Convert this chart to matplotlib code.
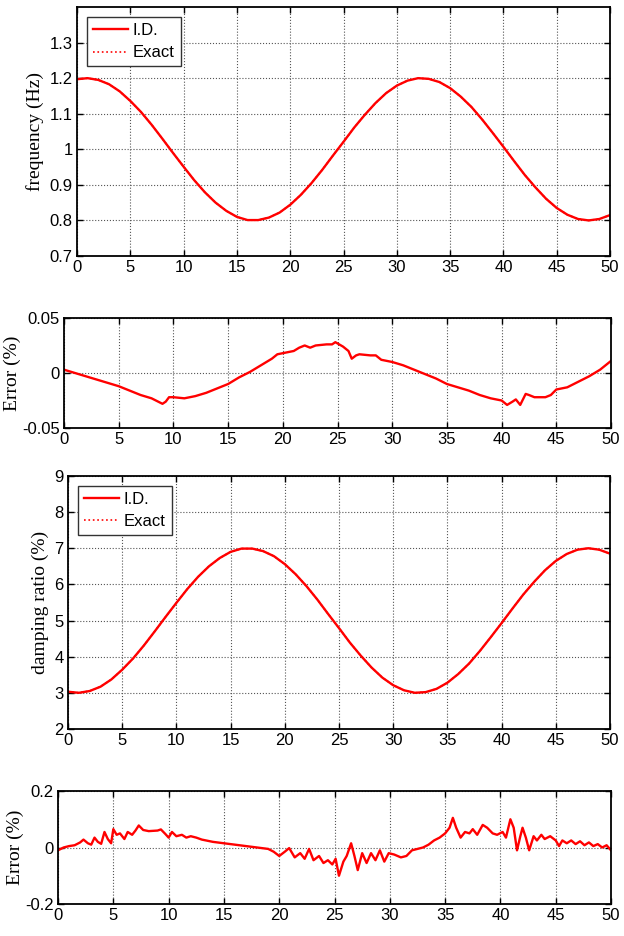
import numpy as np
import matplotlib
matplotlib.use("Agg")
import matplotlib.pyplot as plt
from matplotlib.ticker import FuncFormatter

plt.rcParams['font.family'] = ['Liberation Sans', 'DejaVu Sans']
plt.rcParams['axes.unicode_minus'] = False

# time grid for the smooth curves (s)
t_smooth = list(range(0, 51))

freq_id = [1.197, 1.200, 1.195, 1.183, 1.163, 1.136, 1.105, 1.069, 1.030, 0.990,
           0.951, 0.913, 0.879, 0.850, 0.827, 0.810, 0.801, 0.801, 0.808, 0.822,
           0.844, 0.872, 0.905, 0.942, 0.982, 1.021, 1.061, 1.097, 1.130, 1.158,
           1.179, 1.193, 1.200, 1.198, 1.189, 1.172, 1.148, 1.119, 1.084, 1.046,
           1.007, 0.967, 0.928, 0.893, 0.861, 0.835, 0.816, 0.804, 0.800, 0.804,
           0.815]
freq_exact = list(freq_id)

damp_id = [3.03, 3.00, 3.05, 3.17, 3.37, 3.64, 3.95, 4.31, 4.70, 5.10,
           5.49, 5.87, 6.21, 6.50, 6.73, 6.90, 6.99, 6.99, 6.92, 6.78,
           6.56, 6.28, 5.95, 5.58, 5.18, 4.79, 4.39, 4.03, 3.70, 3.42,
           3.21, 3.07, 3.00, 3.02, 3.11, 3.28, 3.52, 3.81, 4.16, 4.54,
           4.93, 5.33, 5.72, 6.07, 6.39, 6.65, 6.84, 6.96, 7.00, 6.96,
           6.85]
damp_exact = list(damp_id)

t_err_f = [0, 1, 2, 3, 4, 5, 6, 7, 8, 9, 9.3, 9.6, 10, 11, 12, 13, 14, 15, 16, 17,
           18, 19, 19.5, 20, 21, 21.5, 22, 22.5, 23, 24, 24.5, 24.8, 25.5, 26, 26.3,
           26.7, 27, 28, 28.5, 29, 30, 31, 32, 33, 34, 35, 36, 37, 38, 39, 40, 40.5,
           41, 41.3, 41.7, 42.2, 42.5, 43, 44, 44.5, 45, 46, 47, 48, 49, 50]
err_f = [0.003, 0.000, -0.003, -0.006, -0.009, -0.012, -0.016, -0.020, -0.023, -0.028,
         -0.026, -0.022, -0.022, -0.023, -0.021, -0.018, -0.014, -0.010, -0.004, 0.001,
         0.007, 0.013, 0.017, 0.018, 0.020, 0.023, 0.025, 0.023, 0.025, 0.026,
         0.026, 0.028, 0.024, 0.020, 0.013, 0.016, 0.017, 0.016, 0.016, 0.012,
         0.010, 0.007, 0.003, -0.001, -0.005, -0.010, -0.013, -0.016, -0.020, -0.023,
         -0.025, -0.029, -0.026, -0.024, -0.029, -0.019, -0.020, -0.022, -0.022, -0.020,
         -0.015, -0.013, -0.008, -0.003, 0.003, 0.011]

t_err_d = [0, 0.5, 1, 1.5, 2, 2.3, 2.7, 3, 3.3, 3.6, 3.9, 4.2, 4.5, 4.8, 5.0, 5.3, 5.6,
           6.0, 6.3, 6.7, 7.0, 7.3, 7.7, 8.2, 9, 9.3, 9.7, 10, 10.3, 10.7, 11.2, 11.6,
           12, 12.5, 13, 14, 15, 16, 17, 18, 19, 19.5, 20, 20.5, 20.9, 21.4, 21.9,
           22.3, 22.7, 23.1, 23.6, 24.0, 24.4, 24.8, 25.1, 25.4, 25.8, 26.1, 26.5,
           26.8, 27.1, 27.5, 27.9, 28.3, 28.7, 29.1, 29.5, 29.9, 30.4, 31, 31.5, 32,
           33, 33.5, 34, 34.5, 35, 35.4, 35.7, 36, 36.4, 36.8, 37.2, 37.5, 37.9, 38.4,
           38.8, 39.3, 39.7, 40.2, 40.5, 40.9, 41.2, 41.5, 41.8, 42.0, 42.3, 42.6,
           43.0, 43.3, 43.7, 44.0, 44.5, 45, 45.3, 45.6, 46, 46.4, 46.8, 47.2, 47.6,
           48, 48.4, 48.8, 49.2, 49.6, 50]
err_d = [-0.010, 0.000, 0.005, 0.008, 0.018, 0.028, 0.015, 0.010, 0.035, 0.020, 0.013,
         0.055, 0.030, 0.015, 0.065, 0.045, 0.050, 0.030, 0.055, 0.045, 0.060, 0.078,
         0.062, 0.058, 0.060, 0.064, 0.048, 0.035, 0.055, 0.040, 0.045, 0.035, 0.040,
         0.035, 0.028, 0.020, 0.015, 0.010, 0.005, 0.000, -0.005, -0.015, -0.030,
         -0.015, -0.002, -0.035, -0.020, -0.040, -0.005, -0.045, -0.030, -0.055,
         -0.045, -0.060, -0.040, -0.100, -0.050, -0.030, 0.015, -0.030, -0.080,
         -0.020, -0.055, -0.020, -0.045, -0.010, -0.050, -0.020, -0.025, -0.035,
         -0.030, -0.010, 0.000, 0.010, 0.025, 0.035, 0.050, 0.070, 0.105, 0.070,
         0.035, 0.055, 0.050, 0.065, 0.045, 0.080, 0.070, 0.050, 0.045, 0.055, 0.035,
         0.100, 0.070, -0.010, 0.040, 0.070, 0.035, -0.010, 0.040, 0.025, 0.045, 0.030,
         0.040, 0.025, 0.005, 0.025, 0.015, 0.025, 0.012, 0.022, 0.008, 0.018, 0.005,
         0.012, 0.000, 0.008, -0.010]

fig = plt.figure(figsize=(6.24, 9.36), dpi=100)

# axes rectangles (left, bottom, width, height) in figure fraction
ax1 = fig.add_axes([0.1234, 0.7265, 0.8542, 0.2660])
ax2 = fig.add_axes([0.1026, 0.5427, 0.8766, 0.1176])
ax3 = fig.add_axes([0.1090, 0.2212, 0.8686, 0.2703])
ax4 = fig.add_axes([0.0930, 0.0342, 0.8862, 0.1207])

red = '#ff0000'
serif = ['Liberation Serif', 'DejaVu Serif']


def style(ax, yticks, ylim, ylabel, pad):
    ax.set_xlim(0, 50)
    ax.set_ylim(*ylim)
    ax.set_xticks(range(0, 51, 5))
    ax.set_yticks(yticks)
    ax.yaxis.set_major_formatter(FuncFormatter(lambda v, p: f"{v:g}"))
    ax.grid(True, linestyle=':', color='#555555', linewidth=0.8)
    ax.tick_params(direction='in', top=True, right=True, labelsize=12,
                   length=4, width=1, pad=3)
    for s in ax.spines.values():
        s.set_linewidth(1.3)
    ax.set_ylabel(ylabel, family=serif, fontsize=14, labelpad=pad)


def add_legend(ax):
    ax.legend(loc='upper left', fontsize=12, fancybox=False, framealpha=1,
              edgecolor='#333333', borderpad=0.35, labelspacing=0.45,
              handletextpad=0.3, handlelength=2.1, borderaxespad=0.6)


ax1.plot(t_smooth, freq_id, color=red, lw=1.7, label='I.D.')
ax1.plot(t_smooth, freq_exact, color=red, lw=1.2, ls=':', label='Exact')
style(ax1, [0.7, 0.8, 0.9, 1.0, 1.1, 1.2, 1.3], (0.7, 1.4), 'frequency (Hz)', 4)
add_legend(ax1)

ax2.plot(t_err_f, err_f, color=red, lw=1.7)
style(ax2, [-0.05, 0, 0.05], (-0.05, 0.05), 'Error (%)', 1)

ax3.plot(t_smooth, damp_id, color=red, lw=1.7, label='I.D.')
ax3.plot(t_smooth, damp_exact, color=red, lw=1.2, ls=':', label='Exact')
style(ax3, list(range(2, 10)), (2, 9), 'damping ratio (%)', 4)
add_legend(ax3)

ax4.plot(t_err_d, err_d, color=red, lw=1.7)
style(ax4, [-0.2, 0, 0.2], (-0.2, 0.2), 'Error (%)', 1)

fig.savefig('out.png', dpi=100)
